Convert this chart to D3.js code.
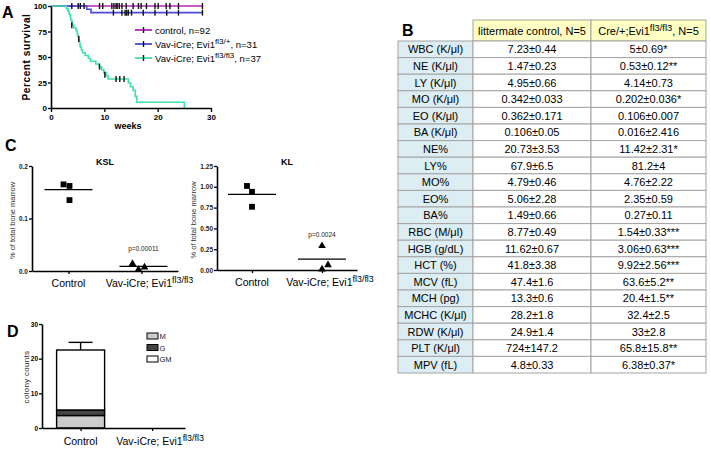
<!DOCTYPE html>
<html><head><meta charset="utf-8">
<script src="https://cdn.jsdelivr.net/npm/d3@7"></script>
<style>
body{margin:0;background:#fff}
svg{display:block}
text{font-family:"Liberation Sans",Arial,sans-serif}
</style>
</head><body>
<svg id="c" width="711" height="449"></svg>
<script>
// ================= DATA =================
// Panel A – Kaplan-Meier survival (weeks, percent surviving)
const weekTicks = [0, 10, 20, 30];
const survTicks = [0, 25, 50, 75, 100];
const survControl = [[0,100],[28.4,100]];
const survHet = [[0,100],[6.7,96.8],[7.5,93.5],[28.4,93.5]];
const survHom = [[0,100],[2.9,97.3],[3.2,94.6],[3.4,91.9],[3.6,89.2],[3.7,86.5],[3.9,83.8],[4.0,81.1],
  [4.3,78.4],[4.7,75.7],[4.9,73.0],[5.0,70.3],[5.2,67.6],[5.3,64.9],[5.4,62.2],[5.5,59.5],[5.7,56.8],
  [5.9,54.1],[6.4,51.4],[7.0,48.6],[7.4,45.9],[8.4,43.2],[9.0,40.5],[9.5,37.6],[9.9,34.7],[10.3,31.7],
  [10.7,28.5],[14.5,24.7],[14.9,20.9],[15.4,17.2],[15.8,11.4],[16.1,5.7],[25.0,5.7],[25.0,0]];
const censorControl = [3.9,5.1,5.5,6.2,9.1,9.7,11.4,11.8,12.2,12.4,12.8,13.3,14.1,15.4,16.4,16.9,17.9,19.5,20.1,21.6,22.3,23.9,28.4];
const censorHet = [[11.7,93.5],[13.3,93.5],[13.9,93.5],[14.2,93.5],[14.5,93.5],[15.1,93.5],[17.3,93.5],[19.5,93.5],[21.7,93.5],[23.9,93.5],[28.4,93.5]];
const censorHom = [[3.9,81.1],[5.2,67.6],[9.1,40.5],[10.1,32.5],[12.2,28.5],[12.9,28.5],[13.7,28.5]];
const seriesNames = ["control, n=92", "Vav-iCre; Evi1|fl3/+|, n=31", "Vav-iCre; Evi1|fl3/fl3|, n=37"];
const seriesColors = ["#b226b8", "#4a4ad6", "#3fe0b2"];

// Panel B – table
const colHeaders = ["littermate control, N=5", "Cre/+;Evi1|fl3/fl3|, N=5"];
const rowLabels = ["WBC (K/μl)","NE (K/μl)","LY (K/μl)","MO (K/μl)","EO (K/μl)","BA (K/μl)","NE%","LY%","MO%","EO%","BA%",
  "RBC (M/μl)","HGB (g/dL)","HCT (%)","MCV (fL)","MCH (pg)","MCHC (K/μl)","RDW (K/μl)","PLT (K/μl)","MPV (fL)"];
const controlVals = ["7.23±0.44","1.47±0.23","4.95±0.66","0.342±0.033","0.362±0.171","0.106±0.05","20.73±3.53","67.9±6.5",
  "4.79±0.46","5.06±2.28","1.49±0.66","8.77±0.49","11.62±0.67","41.8±3.38","47.4±1.6","13.3±0.6","28.2±1.8","24.9±1.4","724±147.2","4.8±0.33"];
const mutantVals = ["5±0.69*","0.53±0.12**","4.14±0.73","0.202±0.036*","0.106±0.007","0.016±2.416","11.42±2.31*","81.2±4",
  "4.76±2.22","2.35±0.59","0.27±0.11","1.54±0.33***","3.06±0.63***","9.92±2.56***","63.6±5.2**","20.4±1.5**","32.4±2.5","33±2.8","65.8±15.8**","6.38±0.37*"];

// Panel C – scatter (% of total bone marrow)
const groups = ["Control", "Vav-iCre; Evi1|fl3/fl3|"];
const kslControl = [0.165, 0.162, 0.135];
const kslMutant = [0.014, 0.003, 0.007];
const kslMeans = [0.155, 0.009];
const kslTicks = [0, 0.1, 0.2];
const kslP = "p=0.00011";
const klControl = [1.01, 0.94, 0.76];
const klMutant = [0.29, 0.06, 0.01];
const klMeans = [0.91, 0.13];
const klTicks = [0, 0.25, 0.5, 0.75, 1.0, 1.25];
const klP = "p=0.0024";

// Panel D – colony counts (stacked)
const colonyTypes = ["M", "G", "GM"];
const colonyM = [3.6, 0];
const colonyG = [1.6, 0];
const colonyGM = [17.3, 0];
const colonyErr = [2.2, 0];
const colonyTicks = [0, 10, 20, 30];
const colonyColors = ["#cccccc", "#444444", "#ffffff"];

// ================= HELPERS =================
const svg = d3.select("#c");

function richText(g, x, y, str, size, anchor, weight) {
  const t = g.append("text").attr("x", x).attr("y", y)
    .attr("font-size", size).attr("text-anchor", anchor || "start")
    .attr("font-weight", weight || "normal").attr("fill", "#000");
  const parts = str.split("|");
  parts.forEach((p, i) => {
    const sp = t.append("tspan").text(p);
    if (i % 2 === 1) { sp.attr("font-size", size * 0.85).attr("dy", -size * 0.4); }
    else if (i > 0) { sp.attr("dy", size * 0.4); }
  });
  return t;
}
function styleAxis(sel, fs, weight, color) {
  sel.select(".domain").attr("stroke", "#000").attr("stroke-width", 1.6);
  sel.selectAll(".tick line").attr("stroke", "#000").attr("stroke-width", 1.3);
  sel.selectAll(".tick text").attr("font-size", fs).attr("font-weight", weight || "bold")
    .attr("fill", color || "#000").attr("font-family", '"Liberation Sans",Arial,sans-serif');
}
function panelLabel(x, y, s) {
  svg.append("text").attr("x", x).attr("y", y).attr("font-size", 16).attr("font-weight", "bold").text(s);
}

// ================= PANEL A =================
panelLabel(2, 18, "A");
const gA = svg.append("g");
const xA = d3.scaleLinear().domain([0, 30]).range([51, 211]);
const yA = d3.scaleLinear().domain([0, 100]).range([108, 6]);
const stepLine = d3.line().x(d => xA(d[0])).y(d => yA(d[1])).curve(d3.curveStepAfter);

[survControl, survHet, survHom].forEach((s, i) => {
  gA.append("path").attr("d", stepLine(s)).attr("fill", "none")
    .attr("stroke", seriesColors[i]).attr("stroke-width", 1.6);
});
const censorAll = [
  censorControl.map(w => [w, 100]),
  censorHet,
  censorHom
];
censorAll.forEach(arr => {
  gA.selectAll(null).data(arr).enter().append("line")
    .attr("x1", d => xA(d[0])).attr("x2", d => xA(d[0]))
    .attr("y1", d => yA(d[1]) - 3).attr("y2", d => yA(d[1]) + 3)
    .attr("stroke", "#111").attr("stroke-width", 1.4);
});
const axAx = gA.append("g").attr("transform", "translate(0,108)")
  .call(d3.axisBottom(xA).tickValues(weekTicks).tickSize(4).tickSizeOuter(0).tickPadding(2));
styleAxis(axAx, 8, "bold");
const axAy = gA.append("g").attr("transform", "translate(51,0)")
  .call(d3.axisLeft(yA).tickValues(survTicks).tickSize(3).tickSizeOuter(0).tickPadding(1));
styleAxis(axAy, 8, "bold");
gA.append("text").attr("x", 128).attr("y", 129).attr("text-anchor", "middle")
  .attr("font-size", 9).attr("font-weight", "bold").text("weeks");
gA.append("text").attr("transform", "translate(30,57) rotate(-90)").attr("text-anchor", "middle")
  .attr("font-size", 10).attr("font-weight", "bold").attr("letter-spacing", 0.6).text("Percent survival");
// legend
const legY = [30, 44, 58];
seriesNames.forEach((n, i) => {
  gA.append("line").attr("x1", 135).attr("x2", 152).attr("y1", legY[i]).attr("y2", legY[i])
    .attr("stroke", seriesColors[i]).attr("stroke-width", 1.8);
  gA.append("line").attr("x1", 143.5).attr("x2", 143.5).attr("y1", legY[i] - 3).attr("y2", legY[i] + 3)
    .attr("stroke", "#111").attr("stroke-width", 1.4);
  richText(gA, 155, legY[i] + 3.5, n, 9.5, "start");
});

// ================= PANEL B =================
panelLabel(402, 36, "B");
const gB = svg.append("g");
const colX = [398, 473, 591, 706];
const headerTop = 20, headerBot = 41;
const yB = d3.scaleBand().domain(rowLabels).range([headerBot, 373]);
const border = "#a3a3a3";
colHeaders.forEach((h, i) => {
  gB.append("rect").attr("x", colX[i + 1]).attr("y", headerTop).attr("width", colX[i + 2] - colX[i + 1])
    .attr("height", headerBot - headerTop).attr("fill", "#ffffc4").attr("stroke", border);
  richText(gB, (colX[i + 1] + colX[i + 2]) / 2, headerTop + 15, h, 11, "middle");
});
const rowsB = gB.selectAll("g.row").data(rowLabels).enter().append("g").attr("class", "row");
rowsB.append("rect").attr("x", colX[0]).attr("y", d => yB(d)).attr("width", colX[1] - colX[0])
  .attr("height", yB.bandwidth()).attr("fill", "#dcedf3").attr("stroke", border);
rowsB.append("rect").attr("x", colX[1]).attr("y", d => yB(d)).attr("width", colX[2] - colX[1])
  .attr("height", yB.bandwidth()).attr("fill", "#fff").attr("stroke", border);
rowsB.append("rect").attr("x", colX[2]).attr("y", d => yB(d)).attr("width", colX[3] - colX[2])
  .attr("height", yB.bandwidth()).attr("fill", "#fff").attr("stroke", border);
rowsB.append("text").attr("x", (colX[0] + colX[1]) / 2).attr("y", d => yB(d) + yB.bandwidth() / 2 + 4)
  .attr("text-anchor", "middle").attr("font-size", 11).text(d => d);
rowsB.append("text").attr("x", (colX[1] + colX[2]) / 2).attr("y", d => yB(d) + yB.bandwidth() / 2 + 4)
  .attr("text-anchor", "middle").attr("font-size", 11).text((d, i) => controlVals[i]);
rowsB.append("text").attr("x", (colX[2] + colX[3]) / 2).attr("y", d => yB(d) + yB.bandwidth() / 2 + 4)
  .attr("text-anchor", "middle").attr("font-size", 11).text((d, i) => mutantVals[i]);

// ================= PANEL C =================
panelLabel(5, 151, "C");
function scatterPanel(opts) {
  const g = svg.append("g");
  const x = d3.scalePoint().domain(groups).range(opts.xr).padding(0.5);
  const y = d3.scaleLinear().domain(opts.yd).range(opts.yr);
  const ax = g.append("g").attr("transform", `translate(0,${opts.yr[0]})`)
    .call(d3.axisBottom(x).tickSize(3).tickSizeOuter(0).tickFormat(() => ""));
  styleAxis(ax, 10, "normal");
  const ay = g.append("g").attr("transform", `translate(${opts.xr[0]},0)`)
    .call(d3.axisLeft(y).tickValues(opts.ticks).tickFormat(d3.format(opts.fmt)).tickSize(3).tickSizeOuter(0).tickPadding(1));
  styleAxis(ay, 6.5, "bold", "#222");
  groups.forEach((gr, gi) => {
    richText(g, x(gr) + (gi === 1 ? 8 : 0), opts.yr[0] + 16, gr, 10.5, "middle");
  });
  g.append("text").attr("x", (opts.xr[0] + opts.xr[1]) / 2).attr("y", opts.yr[1] - 1)
    .attr("text-anchor", "middle").attr("font-size", 9).attr("font-weight", "bold").text(opts.title);
  g.append("text").attr("transform", `translate(${opts.xr[0] - opts.lo},${(opts.yr[0] + opts.yr[1]) / 2 + 2}) rotate(-90)`)
    .attr("text-anchor", "middle").attr("font-size", 7.5).attr("fill", "#333").text("% of total bone marrow");
  const sq = d3.symbol().type(d3.symbolSquare).size(34);
  const tri = d3.symbol().type(d3.symbolTriangle).size(26);
  g.selectAll(null).data(opts.ctrl).enter().append("path").attr("d", sq)
    .attr("transform", (d, i) => `translate(${x(groups[0]) + opts.jc[i]},${y(d)})`).attr("fill", "#000");
  g.selectAll(null).data(opts.mut).enter().append("path").attr("d", tri)
    .attr("transform", (d, i) => `translate(${x(groups[1]) + opts.jm[i]},${y(d)})`).attr("fill", "#000");
  opts.means.forEach((m, i) => {
    const cx = x(groups[i]) + opts.mo[i];
    g.append("line").attr("x1", cx - 24).attr("x2", cx + 24).attr("y1", y(m)).attr("y2", y(m))
      .attr("stroke", "#000").attr("stroke-width", 1.3);
  });
  g.append("text").attr("x", x(groups[1]) + opts.mo[1]).attr("y", opts.py)
    .attr("text-anchor", "middle").attr("font-size", 6.5).attr("fill", "#222").text(opts.p);
}
scatterPanel({xr: [32, 178], yr: [271, 166], yd: [0, 0.2], ticks: kslTicks, fmt: ".1f", title: "KSL", lo: 17,
  ctrl: kslControl, mut: kslMutant, means: kslMeans, jc: [-5, 1, 1], jm: [-9, -3, 3], mo: [0, 2], p: kslP, py: 251});
scatterPanel({xr: [217, 357], yr: [270, 166], yd: [0, 1.25], ticks: klTicks, fmt: ".2f", title: "KL", lo: 21,
  ctrl: klControl, mut: klMutant, means: klMeans, jc: [-5, 0, 0], jm: [0, 6, 0], mo: [0, 0], p: klP, py: 237});

// ================= PANEL D =================
panelLabel(7, 337, "D");
const gD = svg.append("g");
const xD = d3.scalePoint().domain(groups).range([42, 185]).padding(0.5).align(0.54);
const yD = d3.scaleLinear().domain([0, 30]).range([428, 324]);
const stackData = groups.map((g, i) => ({g, M: colonyM[i], G: colonyG[i], GM: colonyGM[i]}));
const stacked = d3.stack().keys(colonyTypes)(stackData);
const barW = 48;
stackData.forEach((d, i) => {
  if (colonyErr[i] > 0) {
    const top = d.M + d.G + d.GM;
    const cx = xD(d.g);
    gD.append("line").attr("x1", cx).attr("x2", cx).attr("y1", yD(top)).attr("y2", yD(top + colonyErr[i]))
      .attr("stroke", "#000").attr("stroke-width", 1.4);
    gD.append("line").attr("x1", cx - 12).attr("x2", cx + 12).attr("y1", yD(top + colonyErr[i])).attr("y2", yD(top + colonyErr[i]))
      .attr("stroke", "#000").attr("stroke-width", 1.4);
  }
});
stacked.forEach((layer, li) => {
  gD.selectAll(null).data(layer.filter(d => d[1] > d[0])).enter().append("rect")
    .attr("x", d => xD(d.data.g) - barW / 2).attr("width", barW)
    .attr("y", d => yD(d[1])).attr("height", d => yD(d[0]) - yD(d[1]))
    .attr("fill", colonyColors[li]).attr("stroke", "#000").attr("stroke-width", 1.4);
});
const axDx = gD.append("g").attr("transform", "translate(0,428)")
  .call(d3.axisBottom(xD).tickSize(3).tickSizeOuter(0).tickFormat(() => ""));
styleAxis(axDx, 10, "normal");
const axDy = gD.append("g").attr("transform", "translate(42,0)")
  .call(d3.axisLeft(yD).tickValues(colonyTicks).tickSize(3).tickSizeOuter(0).tickPadding(1));
styleAxis(axDy, 6.5, "bold");
groups.forEach((gr, gi) => richText(gD, xD(gr) + (gi === 1 ? 8 : 0), 445, gr, 10.5, "middle"));
gD.append("text").attr("transform", "translate(29,377) rotate(-90)").attr("text-anchor", "middle")
  .attr("font-size", 8).attr("fill", "#222").attr("letter-spacing", 0.3).text("colony counts");
colonyTypes.forEach((t, i) => {
  const ly = 336 + i * 11.5;
  gD.append("rect").attr("x", 147).attr("y", ly - 3).attr("width", 11).attr("height", 6)
    .attr("fill", colonyColors[i]).attr("stroke", "#000").attr("stroke-width", 1);
  gD.append("text").attr("x", 159.5).attr("y", ly + 3).attr("font-size", 7.5).attr("fill", "#222").text(t);
});
</script>
</body></html>
